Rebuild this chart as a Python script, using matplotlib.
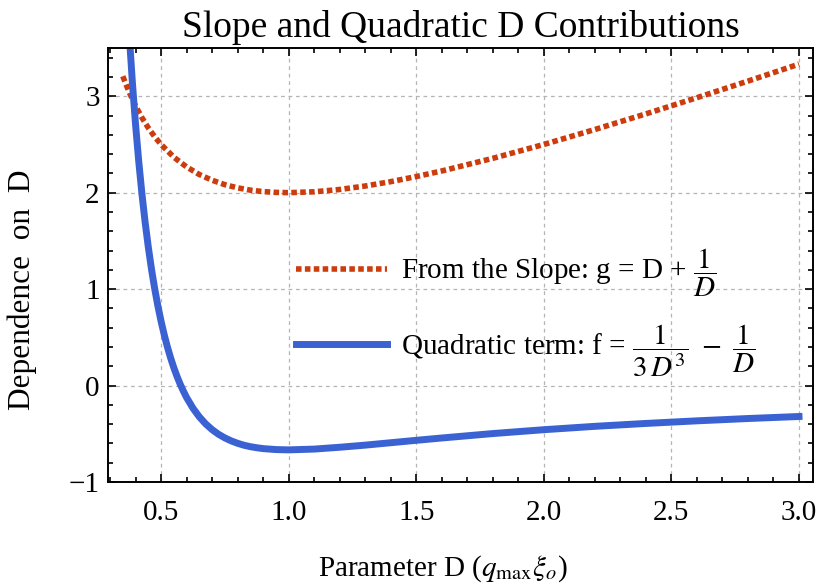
import matplotlib
matplotlib.use('Agg')
import matplotlib.pyplot as plt
from matplotlib.ticker import MultipleLocator

plt.rcParams['font.family'] = ['Liberation Serif', 'DejaVu Serif']
plt.rcParams['mathtext.fontset'] = 'stix'

# slope curve g
d_slope = [0.35, 0.375, 0.40, 0.425, 0.45, 0.475, 0.50, 0.55, 0.60, 0.65, 0.70,
           0.75, 0.80, 0.85, 0.90, 0.95, 1.0, 1.1, 1.2, 1.3, 1.4, 1.5, 1.6,
           1.8, 2.0, 2.2, 2.4, 2.6, 2.8, 3.0]
g_slope = [3.207, 3.042, 2.900, 2.778, 2.672, 2.580, 2.500, 2.368, 2.267, 2.188, 2.129,
           2.083, 2.050, 2.026, 2.011, 2.003, 2.000, 2.009, 2.033, 2.069, 2.114, 2.167, 2.225,
           2.356, 2.500, 2.655, 2.817, 2.985, 3.157, 3.333]

# quadratic term f
d_quad = [0.37, 0.375, 0.3875, 0.40, 0.4125, 0.425, 0.4375, 0.45, 0.4625, 0.475, 0.4875,
          0.50, 0.5125, 0.525, 0.5375, 0.55, 0.5625, 0.575, 0.5875, 0.60, 0.625,
          0.65, 0.675, 0.70, 0.725, 0.75, 0.775, 0.80, 0.825, 0.85, 0.875, 0.90, 0.95,
          1.0, 1.1, 1.2, 1.3, 1.4, 1.5, 1.6, 1.8, 2.0, 2.2, 2.4, 2.6, 2.8, 3.0]
f_quad = [3.878, 3.654, 3.148, 2.708, 2.325, 1.989, 1.695, 1.436, 1.207, 1.005, 0.826,
          0.667, 0.525, 0.399, 0.286, 0.185, 0.095, 0.014, -0.058, -0.124, -0.235,
          -0.325, -0.398, -0.457, -0.505, -0.543, -0.574, -0.599, -0.619, -0.634, -0.645, -0.654, -0.664,
          -0.667, -0.659, -0.640, -0.618, -0.593, -0.568, -0.544, -0.498, -0.458, -0.423, -0.393,
          -0.366, -0.342, -0.321]

slope_label = r'From the Slope: g = D + $\dfrac{1}{D}$'
quad_label = r'Quadratic term: f = $\dfrac{1}{3\,D^3}\ -\ \dfrac{1}{D}$'

fig = plt.figure(figsize=(8.23, 5.84), dpi=100)
ax = fig.add_axes([0.1312, 0.1747, 0.8567, 0.7431])

ax.plot(d_slope, g_slope, color='#cc3c0c', lw=4.0, linestyle=(0, (1, 0.6)),
        dash_capstyle='butt', label=slope_label)
ax.plot(d_quad, f_quad, color='#3a62d2', lw=5.0, label=quad_label)

ax.set_xlim(0.292, 3.055)
ax.set_ylim(-1, 3.5)
ax.xaxis.set_minor_locator(MultipleLocator(0.1))
ax.yaxis.set_minor_locator(MultipleLocator(0.2))
ax.set_xticks([0.5, 1.0, 1.5, 2.0, 2.5, 3.0])
ax.set_xticklabels(['0.5', '1.0', '1.5', '2.0', '2.5', '3.0'])
ax.set_yticks([-1, 0, 1, 2, 3])
ax.set_yticklabels(['\u22121', '0', '1', '2', '3'])

ax.tick_params(which='both', direction='in', top=True, right=True, width=1.2, labelsize=21)
ax.tick_params(which='major', length=6)
ax.tick_params(which='minor', length=3.8)
ax.tick_params(axis='x', pad=13)
ax.tick_params(axis='y', pad=6)
for s in ax.spines.values():
    s.set_linewidth(1.4)

ax.grid(True, which='major', color='#b4b4b4', linestyle=(0, (3, 3)), linewidth=0.9)
ax.set_axisbelow(True)

ax.set_title('Slope and Quadratic D Contributions', fontsize=27, pad=8)
ax.set_xlabel(r'Parameter D ($q_{\rm max}\xi_o$)', fontsize=21)
ax.set_ylabel('Dependence  on  D', fontsize=22.5)
ax.xaxis.set_label_coords(0.475, -0.164)
ax.yaxis.set_label_coords(-0.1, 0.442)

ax.legend(loc='center left', bbox_to_anchor=(0.23, 0.39), frameon=False,
          fontsize=21, handlelength=3.1, labelspacing=0.8, handletextpad=0.5)

fig.savefig('out.png', dpi=100)
